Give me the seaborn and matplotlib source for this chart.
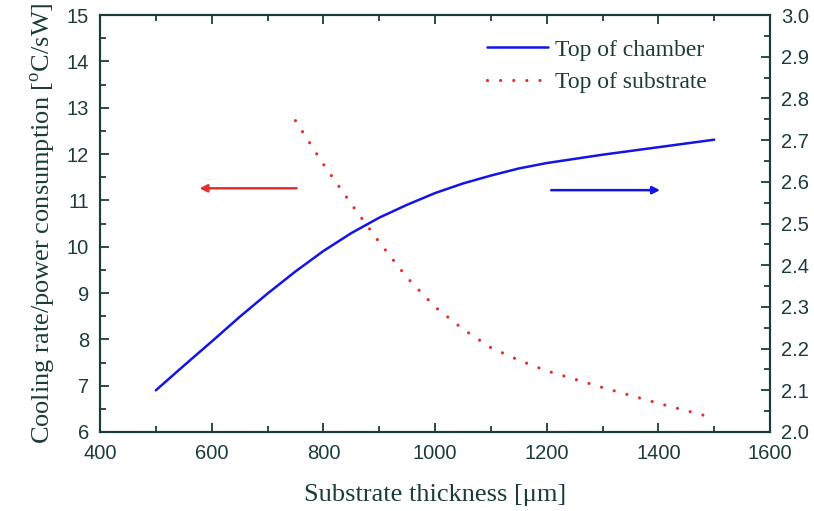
import pandas as pd
import seaborn as sns
import matplotlib.pyplot as plt
from matplotlib.ticker import MultipleLocator

# 数据
chamber_x = [500, 550, 600, 650, 700, 750, 800, 850, 900, 950, 1000,
             1050, 1100, 1150, 1200, 1250, 1300, 1350, 1400, 1450, 1500]
chamber_y = [2.100, 2.159, 2.217, 2.276, 2.332, 2.385, 2.434, 2.477, 2.514, 2.545, 2.573,
             2.596, 2.615, 2.632, 2.645, 2.655, 2.665, 2.674, 2.683, 2.692, 2.701]

substrate_x = [750, 800, 850, 900, 950, 1000, 1050, 1100, 1150,
               1200, 1250, 1300, 1350, 1400, 1450, 1500]
substrate_y = [12.72, 11.78, 10.92, 10.10, 9.33, 8.70, 8.22, 7.82, 7.55,
               7.32, 7.14, 6.96, 6.79, 6.62, 6.46, 6.30]

X_LABEL = "Substrate thickness [\u03bcm]"
Y_LABEL = r"Cooling rate/power consumption [$^{\mathregular{o}}$C/sW]"
LABELS = ["Top of chamber", "Top of substrate"]

INK = "#1c3b3b"
BLUE = "#1414e6"
RED = "#e03030"


def main():
    sns.set_style("ticks")
    plt.rcParams["font.family"] = ["Liberation Sans", "DejaVu Sans"]

    df_ch = pd.DataFrame({"x": chamber_x, "y": chamber_y})
    df_sub = pd.DataFrame({"x": substrate_x, "y": substrate_y})

    fig = plt.figure(figsize=(8.14, 5.11), dpi=100)
    ax = fig.add_axes([0.1229, 0.1546, 0.8231, 0.816])
    ax2 = ax.twinx()

    sns.lineplot(data=df_sub, x="x", y="y", ax=ax, color=RED, lw=2.3,
                 linestyle=(0, (0.01, 4.1)), dash_capstyle="round",
                 label=LABELS[1], legend=False)
    sns.lineplot(data=df_ch, x="x", y="y", ax=ax2, color=BLUE, lw=1.8,
                 label=LABELS[0], legend=False)

    ax.set_xlim(400, 1600)
    ax.set_ylim(6, 15)
    ax2.set_ylim(2.0, 3.0)
    ax.xaxis.set_major_locator(MultipleLocator(200))
    ax.xaxis.set_minor_locator(MultipleLocator(100))
    ax.yaxis.set_major_locator(MultipleLocator(1))
    ax.yaxis.set_minor_locator(MultipleLocator(0.5))
    ax2.yaxis.set_major_locator(MultipleLocator(0.1))
    ax2.yaxis.set_minor_locator(MultipleLocator(0.05))
    ax2.yaxis.set_major_formatter(plt.FuncFormatter(lambda v, p: f"{v:.1f}"))

    for a in (ax, ax2):
        for s in a.spines.values():
            s.set_visible(True)
            s.set_color(INK)
            s.set_linewidth(1.5)
        a.tick_params(which="major", direction="in", length=6.5, width=1.3,
                      colors=INK, labelsize=14.5, pad=8)
        a.tick_params(which="minor", direction="in", length=4, width=1.3,
                      colors=INK)
    ax.tick_params(which="both", left=True, right=False, top=True, bottom=True)
    ax.tick_params(axis="x", which="major", pad=9)
    ax2.tick_params(which="both", right=True, left=False)

    serif = ["Liberation Serif", "DejaVu Serif"]
    ax.set_xlabel(X_LABEL, family=serif, fontsize=19, color=INK, labelpad=15)
    ax.set_ylabel(Y_LABEL, family=serif, fontsize=19, color=INK, labelpad=6)
    ax2.set_ylabel("")

    # 方向箭头
    ax.annotate("", xy=(578, 11.26), xytext=(752, 11.26),
                arrowprops=dict(arrowstyle="-|>", color=RED, lw=1.8,
                                mutation_scale=11, shrinkA=0, shrinkB=0))
    ax.annotate("", xy=(1403, 11.22), xytext=(1208, 11.22),
                arrowprops=dict(arrowstyle="-|>", color=BLUE, lw=1.8,
                                mutation_scale=11, shrinkA=0, shrinkB=0))

    handles = ax2.get_lines()[:1] + ax.get_lines()[:1]
    leg = ax2.legend(handles, LABELS, loc="upper right",
                     bbox_to_anchor=(0.937, 0.993), frameon=False,
                     prop={"family": serif, "size": 17},
                     handlelength=2.55, handletextpad=0.3, labelspacing=0.45)
    for t in leg.get_texts():
        t.set_color(INK)

    fig.savefig("out.png", dpi=100)


if __name__ == "__main__":
    main()
